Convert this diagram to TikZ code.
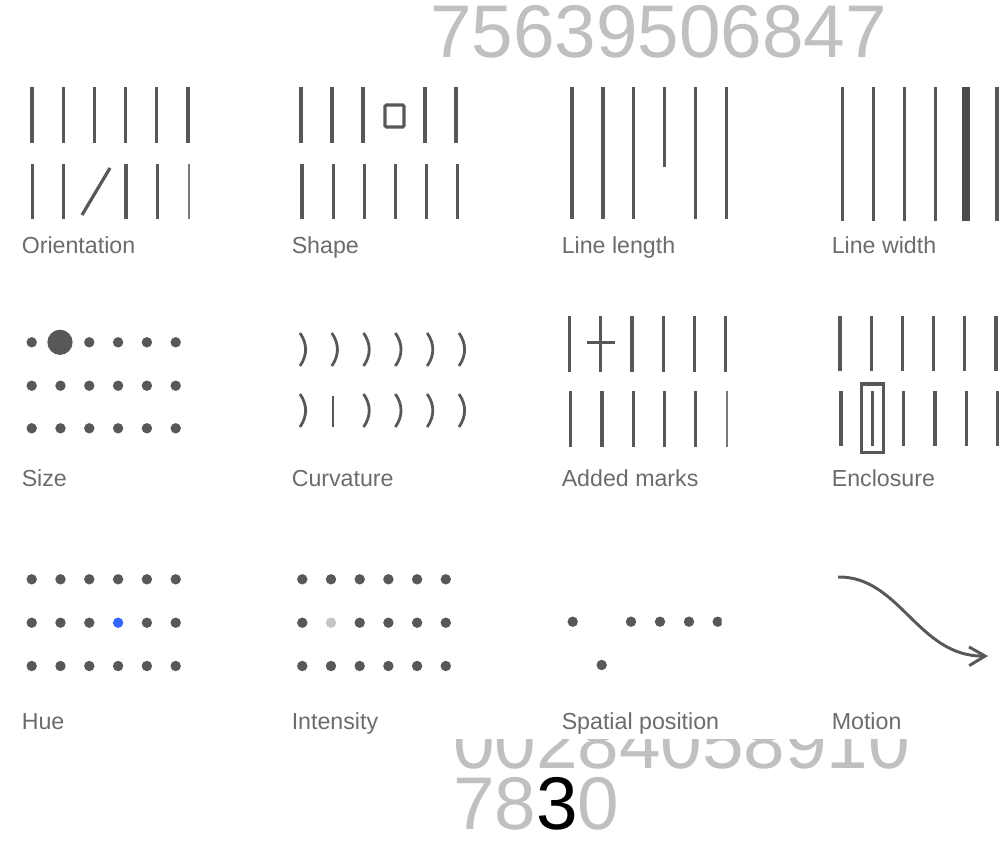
\documentclass[tikz,border=0pt]{standalone}
\usepackage{fontspec}
\setmainfont{Liberation Sans}
\usetikzlibrary{arrows.meta}
\definecolor{ink}{RGB}{88,88,88}
\definecolor{lbl}{RGB}{108,108,108}
\definecolor{num}{RGB}{192,192,192}
\definecolor{huecol}{RGB}{51,102,255}
\definecolor{pale}{RGB}{196,196,196}
\definecolor{thinink}{RGB}{120,120,120}
\begin{document}
\begin{tikzpicture}[x=0.75pt,y=-0.75pt,
  bar/.style={draw=ink,line width=2.4pt},
  thinbar/.style={draw=thinink,line width=1.5pt},
  dot/.style={fill=ink},
  lab/.style={anchor=base west,inner sep=0pt,text=lbl,font=\fontsize{17.4}{19}\selectfont},
  bignum/.style={anchor=base west,inner sep=0pt,text=num,font=\fontsize{56}{60}\selectfont}]
\useasboundingbox (0,0) rectangle (1002,849);
\fill[white] (0,0) rectangle (1002,849);

% ---------- big numbers ----------
\node[bignum] (numtop) at (430,58) {75639506847};
\begin{scope}
  \clip (400,739) rectangle (960,776);
  \node[bignum] (numcut) at (453,768) {00284058910};
\end{scope}
\node[bignum] (numbot) at (453,829) {78{\color{black}3}0};

% ---------- Row 1 ----------
% Orientation
\foreach \i in {0,...,5} \draw[bar] ({32+31.2*\i},87) -- ({32+31.2*\i},143);
\foreach \i in {0,1,3,4} \draw[bar] ({32.3+31.2*\i},164) -- ({32.3+31.2*\i},219);
\draw[thinbar] (188.7,164) -- (188.7,219);
\draw[bar] (82,215) -- (110,168);
\node[lab] (l1) at (21.5,253) {Orientation};

% Shape
\foreach \i in {0,1,2,4,5} \draw[bar] ({301+31*\i},87) -- ({301+31*\i},143);
\draw[bar,rounded corners=1pt] (385,105) rectangle (404,127);
\foreach \i in {0,...,5} \draw[bar] ({302+31.1*\i},164) -- ({302+31.1*\i},219);
\node[lab] (l2) at (291.5,253) {Shape};

% Line length
\foreach \i in {0,1,2,4,5} \draw[bar] ({572+30.9*\i},87) -- ({572+30.9*\i},219);
\draw[bar] (664.7,87) -- (664.7,167);
\node[lab] (l3) at (561.5,253) {Line length};

% Line width
\foreach \i in {0,1,2,3} \draw[bar] ({842.3+31*\i},87) -- ({842.3+31*\i},221);
\draw[draw=ink!85!black,line width=5.4pt] (966,87) -- (966,221);
\draw[bar] (997,87) -- (997,221);
\node[lab] (l4) at (831.5,253) {Line width};

% ---------- Row 2 ----------
% Size
\foreach \i in {0,2,3,4,5} \fill[dot] ({31.7+28.8*\i},342.3) circle[radius=5.2];
\fill[dot] (60,342.3) circle[radius=12.6];
\foreach \r in {385.7,428.3} \foreach \i in {0,...,5} \fill[dot] ({31.7+28.8*\i},\r) circle[radius=5.2];
\node[lab] (l5) at (21.5,486) {Size};

% Curvature
\foreach \i in {0,...,5} {
  \draw[ink,line width=2.1pt] ({300+31.8*\i},333) .. controls ({307.5+31.8*\i},344) and ({307.5+31.8*\i},355) .. ({300+31.8*\i},366);
}
\foreach \i in {0,2,3,4,5} {
  \draw[ink,line width=2.1pt] ({300+31.8*\i},394) .. controls ({307.5+31.8*\i},405) and ({307.5+31.8*\i},416) .. ({300+31.8*\i},427);
}
\draw[ink,line width=2.1pt] (333,396) -- (333,427);
\node[lab] (l6) at (291.5,486) {Curvature};

% Added marks
\foreach \i in {0,...,5} \draw[bar] ({569.3+31.3*\i},316) -- ({569.3+31.3*\i},372);
\draw[bar] (587,342.3) -- (615,342.3);
\foreach \i in {0,...,4} \draw[bar] ({570.7+31.2*\i},391) -- ({570.7+31.2*\i},447);
\draw[thinbar] (726.7,391) -- (726.7,447);
\node[lab] (l7) at (561.5,486) {Added marks};

% Enclosure
\foreach \i in {0,...,5} \draw[bar] ({840+31.2*\i},316) -- ({840+31.2*\i},371);
\foreach \i in {0,...,5} \draw[bar] ({841+31.3*\i},391) -- ({841+31.3*\i},446);
\draw[bar] (861.5,384) rectangle (883.5,452.5);
\node[lab] (l8) at (831.5,486) {Enclosure};

% ---------- Row 3 ----------
% Hue
\foreach \r in {579.3,622.7,666} \foreach \i in {0,...,5} \fill[dot] ({31.7+28.8*\i},\r) circle[radius=5.2];
\fill[white] (118.1,622.7) circle[radius=5.8];
\fill[huecol] (118.1,622.7) circle[radius=5.2];
\node[lab] (l9) at (21.5,729) {Hue};

% Intensity
\foreach \r in {579.3,622.7,666} \foreach \i in {0,...,5} \fill[dot] ({302.3+28.7*\i},\r) circle[radius=5.2];
\fill[white] (331,622.7) circle[radius=5.8];
\fill[pale] (331,622.7) circle[radius=5.2];
\node[lab] (l10) at (291.5,729) {Intensity};

% Spatial position
\begin{scope}
  \clip (540,560) rectangle (721.5,690);
  \foreach \x in {572.7,631,660,689,717.7} \fill[dot] (\x,621.7) circle[radius=5.2];
  \fill[dot] (601.7,665) circle[radius=5.2];
\end{scope}
\node[lab] (l11) at (561.5,729) {Spatial position};

% Motion
\coordinate (ms) at (838,577);
\coordinate (me) at (988,656);
\draw[ink,line width=2.2pt,-{Straight Barb[length=12pt,width=14pt]}] (ms) .. controls (900,576) and (918,657) .. (me);
\node[lab] (l12) at (831.5,729) {Motion};
\end{tikzpicture}
\end{document}
